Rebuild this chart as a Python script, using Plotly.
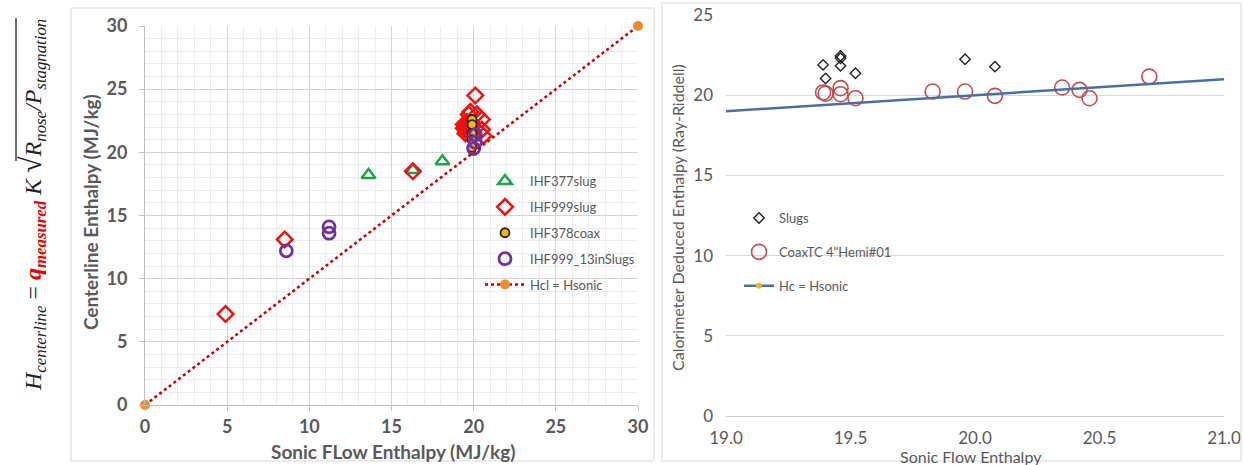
import plotly.graph_objects as go

# ---------------- data: left chart ----------------
ihf377_x = [13.6, 16.3, 18.1]
ihf377_y = [18.2, 18.6, 19.3]

ihf999_x = [4.9, 8.5, 16.3, 19.4, 19.5, 19.6, 19.7, 19.8, 19.6, 19.5, 19.9, 19.7, 19.8, 20.1, 20.2,
            20.5, 20.5, 20.6, 19.9, 19.5, 19.6, 19.7, 19.5, 19.8, 19.4]
ihf999_y = [7.2, 13.1, 18.5, 21.9, 22.2, 21.7, 22.0, 21.6, 22.4, 21.5, 22.0, 23.0, 23.2, 24.5, 23.0,
            22.6, 21.8, 21.3, 22.3, 21.8, 22.1, 21.8, 22.1, 21.9, 22.2]

ihf378_x = [19.9, 19.9, 19.9, 19.9, 19.9]
ihf378_y = [22.6, 22.2, 21.5, 21.0, 20.4]

ihf999_13_x = [8.6, 11.2, 11.2, 20.0, 20.1, 20.1]
ihf999_13_y = [12.2, 13.6, 14.1, 20.3, 20.8, 21.4]

hcl_x = [0, 30]
hcl_y = [0, 30]

# ---------------- data: right chart ----------------
slugs_x = [19.39, 19.40, 19.46, 19.46, 19.46, 19.52, 19.96, 20.08]
slugs_y = [21.89, 21.04, 22.45, 22.30, 21.83, 21.37, 22.24, 21.78]

coaxtc_x = [19.39, 19.40, 19.46, 19.46, 19.52, 19.83, 19.96, 20.08, 20.35, 20.42, 20.46, 20.70]
coaxtc_y = [20.17, 20.10, 20.44, 20.06, 19.81, 20.23, 20.23, 19.96, 20.48, 20.33, 19.81, 21.16]

hc_x = [0, 30]
hc_y = [0, 30]

left_ticks = [0, 5, 10, 15, 20, 25, 30]
right_xticks = [19.0, 19.5, 20.0, 20.5, 21.0]
right_yticks = [0, 5, 10, 15, 20, 25]

# body margin is removed by the post script, so the figure fills the window
OFF = 0
W, H = 1244 - OFF, 465 - OFF
def px(x):
    return (x - OFF) / W
def py(y):
    return 1 - (y - OFF) / H

GRAY = "#595959"
FONT = "Lato"

fig = go.Figure()

# left chart traces
fig.add_trace(go.Scatter(x=ihf377_x, y=ihf377_y, mode="markers", name="IHF377slug",
                         legendgroup="a", legend="legend",
                         marker=dict(symbol="triangle-up-open", size=12, color="#1fa34a",
                                     line=dict(width=2.5, color="#1fa34a")),
                         xaxis="x", yaxis="y"))
fig.add_trace(go.Scatter(x=ihf999_x, y=ihf999_y, mode="markers", name="IHF999slug",
                         legendgroup="b", legend="legend",
                         marker=dict(symbol="diamond-open", size=12, color="#ee1111",
                                     line=dict(width=2.5, color="#ee1111")),
                         xaxis="x", yaxis="y"))
fig.add_trace(go.Scatter(x=ihf378_x, y=ihf378_y, mode="markers", name="IHF378coax",
                         legendgroup="c", legend="legend",
                         marker=dict(symbol="circle", size=9, color="#f5b800",
                                     line=dict(width=1.8, color="#222222")),
                         xaxis="x", yaxis="y"))
fig.add_trace(go.Scatter(x=ihf999_13_x, y=ihf999_13_y, mode="markers", name="IHF999_13inSlugs",
                         legendgroup="d", legend="legend",
                         marker=dict(symbol="circle-open", size=12, color="#7030a0",
                                     line=dict(width=2.8, color="#7030a0")),
                         xaxis="x", yaxis="y"))
fig.add_trace(go.Scatter(x=hcl_x, y=hcl_y, mode="lines+markers", name="Hcl = Hsonic",
                         legendgroup="e", legend="legend",
                         line=dict(color="#c00000", width=2.5, dash="dot"),
                         marker=dict(symbol="circle", size=10, color="#f08a30"),
                         cliponaxis=False,
                         xaxis="x", yaxis="y"))

# right chart traces
fig.add_trace(go.Scatter(x=slugs_x, y=slugs_y, mode="markers", name="Slugs",
                         legendgroup="f", legend="legend2",
                         marker=dict(symbol="diamond-open", size=8, color="#222222",
                                     line=dict(width=1.4, color="#222222")),
                         xaxis="x2", yaxis="y2"))
fig.add_trace(go.Scatter(x=coaxtc_x, y=coaxtc_y, mode="markers", name='CoaxTC 4"Hemi#01',
                         legendgroup="g", legend="legend2",
                         marker=dict(symbol="circle-open", size=15, color="#c0504d",
                                     line=dict(width=1.6, color="#c0504d")),
                         xaxis="x2", yaxis="y2"))
fig.add_trace(go.Scatter(x=hc_x, y=hc_y, mode="lines+markers", name="Hc = Hsonic",
                         legendgroup="h", legend="legend2",
                         line=dict(color="#4a6fa5", width=2.5),
                         marker=dict(symbol="circle", size=6, color="#f5b800"),
                         xaxis="x2", yaxis="y2"))

L_X0, L_X1, L_Y0, L_Y1 = 145, 638, 405, 26
R_X0, R_X1, R_Y0, R_Y1 = 726, 1224, 416, 15

axis_common = dict(showline=True, linecolor="#bfbfbf", linewidth=1, zeroline=False,
                   ticks="outside", ticklen=5, tickcolor="#bfbfbf", automargin=False,
                   ticklabeloverflow="allow")

fig.update_layout(
    width=W, height=H, margin=dict(l=0, r=0, t=0, b=0, pad=0, autoexpand=False),
    autosize=False,
    paper_bgcolor="white", plot_bgcolor="white",
    font=dict(family=FONT, color=GRAY),
    xaxis=dict(domain=[px(L_X0), px(L_X1)], range=[0, 30], tickvals=left_ticks,
               showgrid=True, gridcolor="#d4d4d4", gridwidth=1,
               minor=dict(dtick=1, showgrid=True, gridcolor="#ededed", gridwidth=1),
               tickfont=dict(size=18, color=GRAY, family=FONT, weight="bold"),
               ticklabelstandoff=0,
               anchor="y", **axis_common),
    yaxis=dict(domain=[py(L_Y0), py(L_Y1)], range=[0, 30], tickvals=left_ticks,
               showgrid=True, gridcolor="#d4d4d4", gridwidth=1,
               minor=dict(dtick=1, showgrid=True, gridcolor="#ededed", gridwidth=1),
               tickfont=dict(size=18, color=GRAY, family=FONT, weight="bold"),
               ticklabelstandoff=8,
               anchor="x", **axis_common),
    xaxis2=dict(domain=[px(R_X0), px(R_X1)], range=[19.0, 21.0], tickvals=right_xticks,
                tickformat=".1f", showgrid=False, showline=True, linecolor="#d0d0d0",
                zeroline=False, ticks="", ticklabelstandoff=7, automargin=False,
                ticklabeloverflow="allow",
                tickfont=dict(size=17, color=GRAY, family=FONT), anchor="y2"),
    yaxis2=dict(domain=[py(R_Y0), py(R_Y1)], range=[0, 25], tickvals=right_yticks,
                showgrid=True, gridcolor="#d9d9d9", showline=False, zeroline=False,
                ticks="", ticklabelstandoff=12, automargin=False,
                ticklabeloverflow="allow",
                tickfont=dict(size=17, color=GRAY, family=FONT), anchor="x2"),
    legend=dict(x=px(480), y=py(166), xanchor="left", yanchor="top",
                bgcolor="rgba(255,255,255,0)", font=dict(size=13, color=GRAY, family=FONT),
                tracegroupgap=6, itemwidth=40),
    legend2=dict(x=px(739), y=py(203), xanchor="left", yanchor="top",
                 bgcolor="rgba(255,255,255,0)", font=dict(size=13, color=GRAY, family=FONT),
                 tracegroupgap=14, itemwidth=30),
    showlegend=True,
)

annotations = [
    dict(text="<b>Centerline Enthalpy (MJ/kg)</b>", x=px(90), y=py(212), xref="paper", yref="paper",
         xanchor="center", yanchor="middle",
         textangle=-90, showarrow=False, font=dict(size=19, color=GRAY, family=FONT)),
    dict(text="<b>Sonic FLow Enthalpy (MJ/kg)</b>", x=px(393), y=py(451), xref="paper", yref="paper",
         xanchor="center", yanchor="middle",
         showarrow=False, font=dict(size=19, color=GRAY, family=FONT)),
    dict(text="Calorimeter Deduced Enthalpy (Ray-Riddell)", x=px(678), y=py(218), xref="paper", yref="paper",
         xanchor="center", yanchor="middle",
         textangle=-90, showarrow=False, font=dict(size=16, color=GRAY, family=FONT)),
    dict(text="Sonic Flow Enthalpy", x=px(971), y=py(456), xref="paper", yref="paper",
         xanchor="center", yanchor="middle",
         showarrow=False, font=dict(size=16, color=GRAY, family=FONT)),
    dict(text=("<i>H<sub>centerline</sub></i> = "
               "<b><i><span style='color:#e00000'>q<sub>measured</sub></span></i></b> "
               "<i>K</i> <span style='font-size:30px'>√</span><i>R<sub>nose</sub>/P<sub>stagnation</sub></i>"),
         x=px(12), y=py(205), xref="paper", yref="paper", xanchor="left", yanchor="middle",
         textangle=-90, showarrow=False,
         font=dict(size=24, color="#222222", family="Liberation Serif")),
]
fig.update_layout(annotations=annotations)

shapes = [
    dict(type="rect", xref="paper", yref="paper", x0=px(71), x1=px(654), y0=py(461), y1=py(8),
         line=dict(color="#d9d9d9", width=1)),
    dict(type="rect", xref="paper", yref="paper", x0=px(662), x1=px(1241), y0=py(461), y1=py(3),
         line=dict(color="#d9d9d9", width=1)),
    # radical overline of the equation
    dict(type="line", xref="paper", yref="paper", x0=px(16), x1=px(16), y0=py(18), y1=py(161),
         line=dict(color="#222222", width=1.3)),
]
fig.update_layout(shapes=shapes)

fig.write_html("out.html", config={"displayModeBar": False},
               post_script="document.body.style.margin='0px';document.body.style.overflow='hidden';")
